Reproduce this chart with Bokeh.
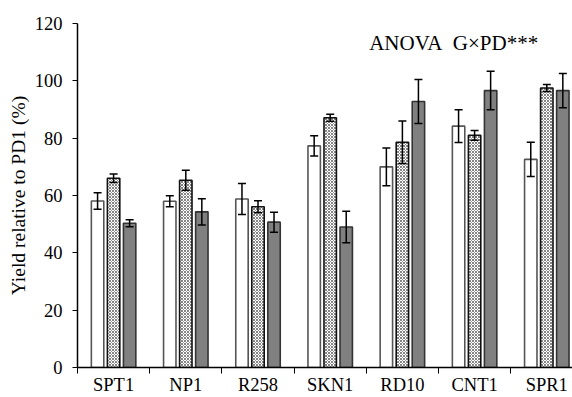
import math
from bokeh.plotting import figure
from bokeh.models import (ColumnDataSource, FixedTicker, Range1d, Label,
                          Whisker, TeeHead)
from bokeh.embed import file_html
from bokeh.resources import INLINE

categories = ["SPT1", "NP1", "R258", "SKN1", "RD10", "CNT1", "SPR1"]
pd_white = [58.1, 58.0, 58.8, 77.3, 70.0, 84.2, 72.6]
err_white = [2.9, 1.9, 5.4, 3.5, 6.6, 5.7, 6.0]
pd_hatch = [66.0, 65.3, 56.1, 87.1, 78.6, 81.0, 97.5]
err_hatch = [1.5, 3.5, 2.1, 1.2, 7.4, 1.7, 1.2]
pd_dark = [50.3, 54.3, 50.7, 49.0, 92.8, 96.6, 96.6]
err_dark = [1.2, 4.6, 3.5, 5.5, 7.7, 6.7, 6.0]
y_ticks = [0, 20, 40, 60, 80, 100, 120]
annotation = "ANOVA\u00a0 G\u00d7PD***"
y_title = "Yield relative to PD1 (%)"

FONT = "Liberation Serif"
n = len(categories)
centers = [i + 0.5 for i in range(n)]
off = 0.222
bw = 0.172

p = figure(width=572, height=397, output_backend="svg", toolbar_location=None,
           x_range=Range1d(0, 6.856), y_range=Range1d(0, 120),
           min_border_left=77, min_border_right=0, min_border_top=23,
           min_border_bottom=30)
p.outline_line_color = None
p.xgrid.visible = False
p.ygrid.visible = False
p.background_fill_color = "white"

series = [
    (pd_white, err_white, -off, dict(fill_color="white", line_color="#555555")),
    (pd_hatch, err_hatch, 0.0, dict(fill_color="white", line_color="#111111",
                                   hatch_pattern="diagonal_cross", hatch_scale=3,
                                   hatch_weight=0.8, hatch_color="#666666")),
    (pd_dark, err_dark, off, dict(fill_color="#808080", line_color="#333333")),
]
for vals, errs, dx, style in series:
    xs = [c + dx for c in centers]
    src = ColumnDataSource(dict(x=xs, top=vals,
                                upper=[v + e for v, e in zip(vals, errs)],
                                lower=[v - e for v, e in zip(vals, errs)]))
    p.vbar(x="x", top="top", bottom=0, width=bw, source=src, line_width=1.6, **style)
    w = Whisker(base="x", upper="upper", lower="lower", source=src,
                level="overlay", line_color="black", line_width=1.5,
                upper_head=TeeHead(size=8, line_width=1.5, line_color="black"),
                lower_head=TeeHead(size=8, line_width=1.5, line_color="black"))
    p.add_layout(w)

# axes
xa = p.xaxis[0]
xa.ticker = FixedTicker(ticks=centers, minor_ticks=list(range(n + 1)))
xa.major_label_overrides = {c: lab for c, lab in zip(centers, categories)}
xa.major_tick_out = 0
xa.major_tick_in = 0
xa.minor_tick_out = 6
xa.minor_tick_in = 0
xa.minor_tick_line_color = "black"
xa.axis_line_width = 1.5
xa.axis_line_color = "black"
xa.major_label_standoff = 1
xa.major_label_text_font = FONT
xa.major_label_text_font_size = "18.5px"
xa.major_label_text_color = "black"

ya = p.yaxis[0]
ya.ticker = FixedTicker(ticks=y_ticks)
ya.major_tick_out = 5
ya.major_tick_in = 0
ya.minor_tick_out = 0
ya.minor_tick_in = 0
ya.axis_line_width = 1.5
ya.axis_line_color = "black"
ya.major_tick_line_color = "black"
ya.major_label_standoff = 10
ya.major_label_text_font = FONT
ya.major_label_text_font_size = "18.5px"
ya.major_label_text_color = "black"
ya.axis_label = y_title
ya.axis_label_text_font = FONT
ya.axis_label_text_font_style = "normal"
ya.axis_label_text_font_size = "19.5px"
ya.axis_label_text_color = "black"
ya.axis_label_standoff = 3

p.add_layout(Label(x=4.04, y=113.3, text=annotation,
                   text_align="left", text_baseline="alphabetic",
                   text_font=FONT, text_font_size="21px", text_color="black"))

open("out.html", "w").write(file_html(p, INLINE))
